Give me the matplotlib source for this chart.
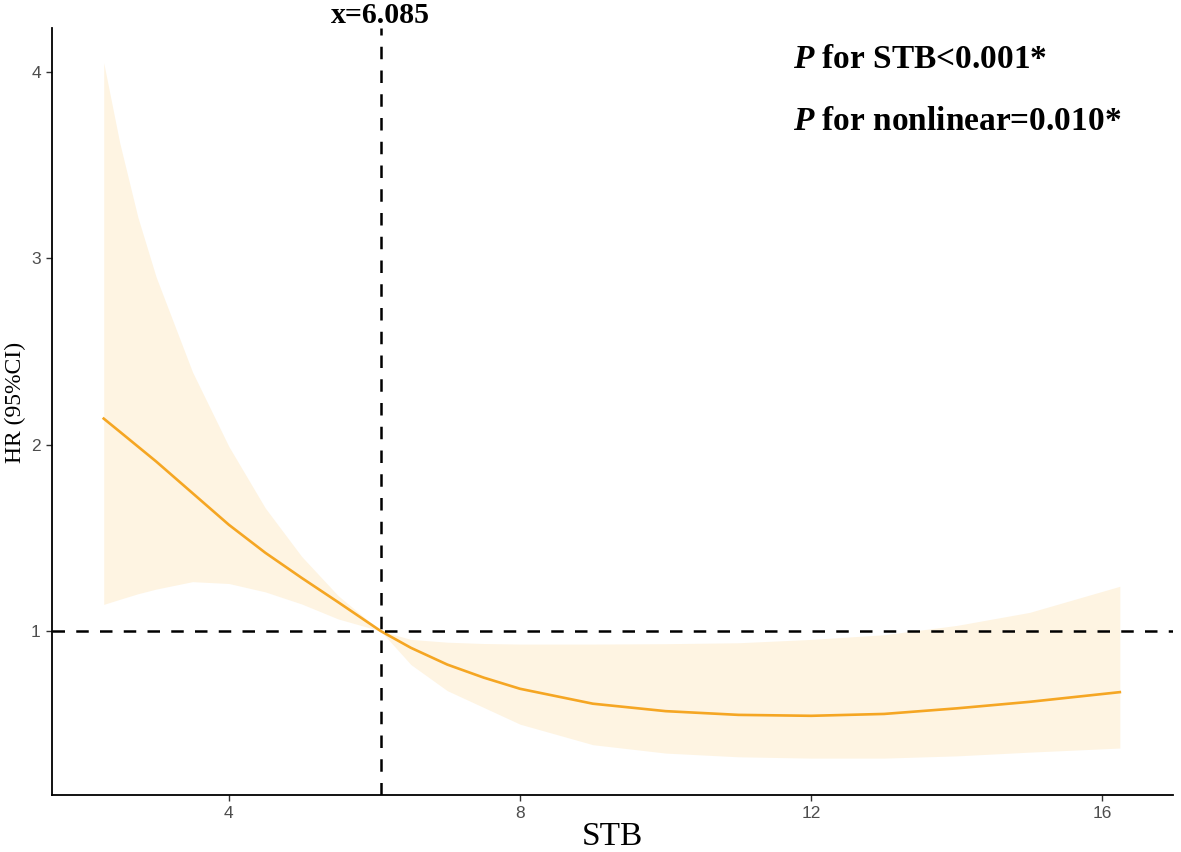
import matplotlib
matplotlib.use("Agg")
import matplotlib.pyplot as plt

plt.rcParams["mathtext.fontset"] = "custom"
plt.rcParams["mathtext.it"] = "Liberation Serif:italic:bold"
plt.rcParams["mathtext.rm"] = "Liberation Serif:bold"

# ---- data ----
stb = [2.28, 2.5, 2.75, 3.0, 3.5, 4.0, 4.5, 5.0, 5.5, 6.085, 6.5, 7.0, 7.5, 8.0,
       9.0, 10.0, 11.0, 12.0, 13.0, 14.0, 15.0, 16.24]
hr = [2.14, 2.07, 1.99, 1.91, 1.74, 1.57, 1.42, 1.285, 1.155, 1.0, 0.91, 0.82, 0.75, 0.69,
      0.61, 0.57, 0.55, 0.545, 0.555, 0.585, 0.62, 0.672]
hr_upper = [4.05, 3.62, 3.22, 2.90, 2.39, 1.99, 1.66, 1.40, 1.19, 1.0, 0.955, 0.94, 0.933, 0.93,
            0.93, 0.932, 0.937, 0.955, 0.98, 1.03, 1.10, 1.24]
hr_lower = [1.143, 1.17, 1.20, 1.225, 1.265, 1.255, 1.21, 1.145, 1.065, 1.0, 0.82, 0.68, 0.59, 0.50,
            0.39, 0.345, 0.325, 0.318, 0.318, 0.33, 0.35, 0.372]
x_ticks = [4, 8, 12, 16]
y_ticks = [1, 2, 3, 4]
cutoff = 6.085
ref_hr = 1.0
p_texts = ["STB<0.001*", "nonlinear=0.010*"]

fig = plt.figure(figsize=(11.81, 8.52), dpi=100)
ax = fig.add_axes([0.0440, 0.0669, 0.9492, 0.9002])

ax.fill_between(stb, hr_lower, hr_upper, color="#FEF4E2", lw=0, zorder=1)
ax.plot(stb, hr, color="#F5A623", lw=1.9, zorder=3)
ax.axhline(ref_hr, color="black", lw=1.8, dashes=(5, 4.5), zorder=4)
ax.axvline(cutoff, color="black", lw=1.8, dashes=(5, 4.5), zorder=4)

ax.set_xlim(1.569, 16.97)
ax.set_ylim(0.12, 4.236)
ax.set_xticks(x_ticks)
ax.set_yticks(y_ticks)
ax.set_xticklabels([str(t) for t in x_ticks], fontsize=12.5, color="#4D4D4D", family="Liberation Sans")
ax.set_yticklabels([str(t) for t in y_ticks], fontsize=12.5, color="#4D4D4D", family="Liberation Sans")
ax.tick_params(axis="both", length=4, width=1, color="#333333", pad=4)

for s in ["top", "right"]:
    ax.spines[s].set_visible(False)
for s in ["left", "bottom"]:
    ax.spines[s].set_linewidth(1.3)
    ax.spines[s].set_color("black")

ax.set_xlabel("STB", fontsize=24, family="Liberation Serif", labelpad=0)
ax.set_ylabel("HR (95%CI)", fontsize=17, family="Liberation Serif")
ax.yaxis.set_label_coords(-0.0235, 0.512)

ax.text(cutoff, 1.0065, f"x={cutoff}", transform=ax.get_xaxis_transform(),
        ha="center", va="baseline", fontsize=21.5, fontweight="bold", family="Liberation Serif")

fig.text(793 / 1181, 1 - 68 / 852, r"$\mathit{P}$ for " + p_texts[0], ha="left", va="baseline",
         fontsize=24, fontweight="bold", family="Liberation Serif")
fig.text(793 / 1181, 1 - 130 / 852, r"$\mathit{P}$ for " + p_texts[1], ha="left", va="baseline",
         fontsize=24, fontweight="bold", family="Liberation Serif")

fig.savefig("out.png", dpi=100)
